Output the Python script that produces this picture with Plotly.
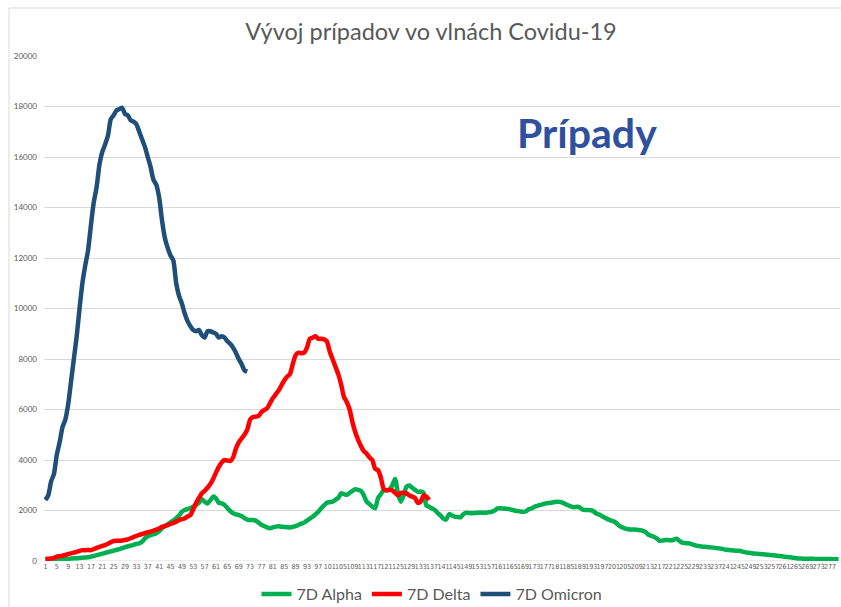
import plotly.graph_objects as go

days = list(range(1, 281))

alpha = [
    40, 45, 50, 55, 60, 65, 70, 80, 90, 100,
    105, 110, 120, 130, 140, 150, 170, 200, 230, 260,
    290, 320, 350, 380, 410, 440, 470, 510, 550, 580,
    610, 640, 680, 700, 760, 900, 980, 1020, 1060, 1100,
    1180, 1300, 1380, 1450, 1530, 1600, 1700, 1800, 1950, 2020,
    2050, 2100, 2150, 2220, 2300, 2450, 2350, 2280, 2400, 2550,
    2480, 2300, 2280, 2220, 2100, 1980, 1890, 1850, 1820, 1780,
    1700, 1640, 1620, 1620, 1600, 1520, 1430, 1380, 1330, 1300,
    1330, 1360, 1380, 1360, 1350, 1340, 1330, 1350, 1380, 1430,
    1480, 1520, 1600, 1680, 1750, 1850, 1950, 2090, 2200, 2310,
    2330, 2350, 2420, 2500, 2680, 2650, 2620, 2700, 2780, 2840,
    2820, 2780, 2600, 2350, 2250, 2150, 2090, 2500, 2650, 2810,
    2800, 2820, 3000, 3250, 2680, 2350, 2600, 2940, 2990, 2900,
    2820, 2740, 2750, 2700, 2200, 2150, 2080, 2020, 1900, 1800,
    1680, 1650, 1860, 1800, 1760, 1740, 1730, 1850, 1910, 1900,
    1890, 1900, 1910, 1920, 1910, 1910, 1930, 1950, 2000, 2080,
    2090, 2080, 2070, 2060, 2030, 2000, 1980, 1960, 1950, 1960,
    2050, 2080, 2150, 2180, 2220, 2250, 2280, 2300, 2310, 2330,
    2350, 2340, 2300, 2250, 2200, 2150, 2130, 2150, 2120, 2030,
    2020, 2020, 2010, 1950, 1870, 1830, 1760, 1700, 1650, 1600,
    1560, 1480, 1380, 1330, 1280, 1260, 1250, 1250, 1240, 1220,
    1200, 1150, 1050, 1000, 960, 900, 800, 810, 830, 830,
    820, 840, 880, 800, 730, 710, 700, 680, 640, 610,
    590, 570, 560, 550, 540, 530, 510, 500, 480, 450,
    440, 430, 420, 410, 410, 380, 350, 330, 320, 300,
    290, 280, 270, 260, 250, 240, 225, 210, 200, 185,
    170, 155, 145, 130, 115, 100, 95, 92, 90, 88,
    85, 82, 80, 80, 80, 78, 76, 74, 72, 70,
]

delta = [
    80, 90, 100, 120, 170, 190, 210, 240, 280, 300,
    330, 360, 400, 430, 430, 440, 430, 470, 520, 560,
    600, 630, 680, 740, 790, 800, 800, 810, 830, 860,
    900, 950, 990, 1030, 1070, 1100, 1140, 1170, 1200, 1240,
    1290, 1350, 1380, 1420, 1470, 1510, 1560, 1620, 1660, 1690,
    1760, 1820, 2050, 2300, 2500, 2680, 2780, 2900, 3050, 3250,
    3500, 3730, 3900, 4000, 3980, 3960, 4100, 4450, 4700, 4850,
    5000, 5200, 5600, 5700, 5720, 5750, 5900, 5980, 6050, 6250,
    6450, 6600, 6750, 6950, 7150, 7300, 7400, 7800, 8150, 8250,
    8230, 8250, 8450, 8800, 8850, 8900, 8800, 8800, 8780, 8700,
    8300, 8000, 7700, 7400, 7000, 6500, 6300, 6000, 5500, 5100,
    4800, 4550, 4350, 4250, 4100, 4000, 3650, 3600, 3300, 2850,
    2800, 2820, 2800, 2700, 2600, 2700, 2700, 2680, 2600, 2550,
    2500, 2300, 2350, 2600, 2550, 2420,
]

omicron = [
    2420, 2600, 3150, 3450, 4200, 4700, 5300, 5600, 6200, 7100,
    8000, 8900, 10000, 11000, 11700, 12300, 13300, 14200, 14800, 15700,
    16200, 16500, 16850, 17500, 17650, 17850, 17900, 17950, 17700, 17650,
    17450, 17400, 17300, 17000, 16700, 16400, 16000, 15600, 15100, 14900,
    14400, 13500, 12800, 12400, 12100, 11900, 11000, 10500, 10200, 9800,
    9500, 9300, 9150, 9100, 9150, 8950, 8850, 9100, 9100, 9050,
    9000, 8850, 8900, 8850, 8700, 8600, 8450, 8250, 8000, 7800,
    7550, 7500,
]

series_names = ["7D Alpha", "7D Delta", "7D Omicron"]
series_colors = ["#00B050", "#FF0000", "#1F4E79"]
x_tick_vals = list(range(1, 281, 4))
y_tick_vals = list(range(0, 20001, 2000))

W, H = 841, 607
L, R, T, B = 44, 1, 56, 607 - 561
pw, ph = W - L - R, H - T - B

fig = go.Figure()
for name, color, vals in zip(series_names, series_colors, [alpha, delta, omicron]):
    fig.add_trace(go.Scatter(
        x=days[:len(vals)], y=vals, mode="lines", name=name,
        line=dict(color=color, width=4.5, shape="spline", smoothing=0.6),
    ))

def px_x(p):
    return (p - L) / pw

def px_y(p):
    return (H - B - p) / ph

fig.update_layout(
    width=W, height=H,
    margin=dict(l=L, r=R, t=T, b=B, autoexpand=False),
    paper_bgcolor="white", plot_bgcolor="white",
    font=dict(family="Lato, 'Open Sans', sans-serif", color="#595959"),
    title=dict(
        text="Vývoj prípadov vo vlnách Covidu-19",
        x=431 / W, xanchor="center", xref="container",
        y=1 - 32 / H, yanchor="middle", yref="container",
        font=dict(size=23.5, color="#595959", family="Lato, 'Open Sans', sans-serif"),
    ),
    xaxis=dict(
        range=[0.5, 280.5], tickmode="array", tickvals=x_tick_vals,
        ticktext=[str(v) for v in x_tick_vals], tickangle=0,
        tickfont=dict(size=7, color="#595959",
                      family="'DejaVu Sans Condensed', 'Liberation Sans Narrow', sans-serif"),
        showgrid=False, zeroline=False, showline=False, ticks="",
        automargin=False,
    ),
    yaxis=dict(
        range=[0, 20000], tickmode="array", tickvals=y_tick_vals,
        ticktext=[str(v) for v in y_tick_vals],
        tickfont=dict(size=8, color="#595959"),
        showgrid=True, gridcolor="#D9D9D9", gridwidth=1,
        zeroline=False, showline=False, ticks="", ticklabelstandoff=6,
        automargin=False,
    ),
    legend=dict(
        orientation="h", x=px_x(432), xanchor="center",
        y=px_y(594), yanchor="middle",
        font=dict(size=16, color="#595959"),
        itemwidth=30, tracegroupgap=0,
    ),
    annotations=[dict(
        text="<b>Prípady</b>", x=px_x(587), y=px_y(132), xref="paper", yref="paper",
        xanchor="center", yanchor="middle", showarrow=False,
        font=dict(size=41, color="#2F4F9F", family="Lato, 'Open Sans', sans-serif"),
    )],
    shapes=[dict(
        type="rect", xref="paper", yref="paper",
        x0=px_x(9), x1=px_x(900), y0=px_y(700), y1=px_y(8),
        line=dict(color="#D9D9D9", width=1), fillcolor="rgba(0,0,0,0)", layer="below",
    ), dict(
        type="line", xref="paper", yref="y", x0=0, x1=1, y0=0, y1=0,
        line=dict(color="#D9D9D9", width=1), layer="below",
    )],
)

fig.write_html(
    "out.html",
    config={"displayModeBar": False},
    post_script="document.body.style.margin='0';document.body.style.overflow='hidden';",
)
